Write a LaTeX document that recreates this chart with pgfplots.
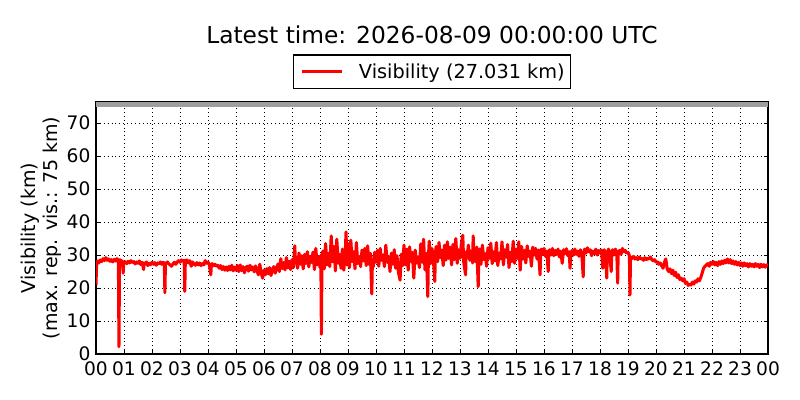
\documentclass[border=0pt]{standalone}
\usepackage{fontspec}
\setmainfont{DejaVu Sans}
\usepackage{pgfplots}
\pgfplotsset{compat=1.18}
\begin{document}
\begin{tikzpicture}[x=1pt,y=1pt]
\path[use as bounding box] (0,0) rectangle (576,288);
\begin{axis}[
 at={(69.12pt,33.12pt)}, anchor=south west, scale only axis,
 width=483.84pt, height=181.44pt,
 xmin=0, xmax=24, ymin=0, ymax=76.4,
 xtick={0,1,...,24},
 xticklabels={00,01,02,03,04,05,06,07,08,09,10,11,12,13,14,15,16,17,18,19,20,21,22,23,00},
 ytick={0,10,...,70},
 tick align=inside, tick pos=both, major tick length=3pt,
 tick style={black, line width=0.6pt},
 grid=major,
 major grid style={black, line width=0.5pt, dash pattern=on 0.6pt off 2.2pt},
 axis line style={line width=0.9pt},
 /pgf/number format/assume math mode=true,
 ticklabel style={font=\fontsize{13.4}{15}\selectfont},
 xticklabel style={yshift=-2pt},
 yticklabel style={xshift=-0.5pt},
 legend style={at={(0.5,1)}, anchor=south, yshift=9.36pt, draw=black, line width=0.8pt,
   font=\fontsize{13.9}{16}\selectfont, inner xsep=2pt, inner ysep=4pt},
 legend image code/.code={\draw[#1,line width=2.2pt] (4pt,0pt)--(33pt,0pt); \path[draw=none] (0pt,0pt)--(43pt,0pt);},
]
\addplot[fill=gray!75, draw=none, forget plot] coordinates {(0,75) (24,75) (24,76.4) (0,76.4)} -- cycle;
\addplot[red, line width=2.2pt, line join=round] table {
t v
0.00 21.0
0.02 27.0
0.05 28.2
0.10 27.6
0.15 28.5
0.20 28.0
0.25 28.9
0.30 28.3
0.35 29.2
0.40 28.4
0.45 28.8
0.50 28.1
0.55 28.6
0.60 27.9
0.65 28.7
0.70 28.2
0.75 28.9
0.80 28.4
0.82 2.2
0.84 28.6
0.90 28.3
0.95 28.0
0.97 24.5
0.99 27.8
1.05 28.0
1.10 27.4
1.15 28.1
1.20 27.6
1.25 28.3
1.30 27.7
1.35 28.0
1.40 27.3
1.45 27.9
1.50 27.5
1.55 28.2
1.60 27.1
1.65 27.8
1.70 25.6
1.72 27.6
1.75 27.2
1.80 27.9
1.85 26.8
1.90 27.5
1.95 27.1
2.00 27.8
2.05 27.2
2.10 27.7
2.15 26.9
2.20 27.6
2.25 27.3
2.30 27.9
2.35 27.2
2.40 27.8
2.44 27.5
2.46 18.6
2.48 27.4
2.55 27.9
2.60 27.3
2.65 27.0
2.70 26.6
2.75 27.3
2.80 27.8
2.85 27.2
2.90 27.9
2.95 28.3
3.00 27.8
3.05 28.5
3.10 28.1
3.15 28.4
3.17 19.0
3.19 28.2
3.25 28.5
3.30 27.6
3.35 28.3
3.40 26.6
3.45 27.9
3.50 27.3
3.55 26.9
3.60 27.7
3.65 27.0
3.70 27.6
3.75 26.8
3.80 27.4
3.85 27.0
3.90 28.3
3.95 27.5
4.00 27.9
4.05 27.1
4.10 24.0
4.12 27.0
4.15 27.4
4.20 26.8
4.25 27.2
4.30 26.6
4.35 26.9
4.40 26.0
4.45 26.8
4.50 25.6
4.55 26.5
4.60 25.4
4.65 26.4
4.70 25.3
4.75 26.6
4.80 25.5
4.85 26.9
4.90 25.2
4.95 26.3
5.00 25.4
5.05 26.8
5.10 25.0
5.15 27.0
5.20 25.3
5.25 26.5
5.30 24.6
5.35 26.2
5.40 26.6
5.45 25.1
5.50 26.9
5.55 25.5
5.60 26.4
5.65 24.9
5.70 26.7
5.75 25.2
5.80 24.0
5.85 27.2
5.90 24.5
5.95 23.0
6.00 25.4
6.05 24.0
6.10 25.9
6.15 24.3
6.20 26.2
6.25 23.8
6.30 25.6
6.35 26.5
6.40 24.5
6.45 26.0
6.50 27.3
6.55 25.0
6.60 28.9
6.65 25.9
6.70 27.7
6.75 25.5
6.80 29.2
6.85 26.1
6.90 28.1
6.95 25.6
7.00 28.6
7.05 26.2
7.10 32.8
7.12 27.6
7.15 29.4
7.20 26.0
7.25 30.6
7.30 27.2
7.35 29.8
7.40 25.8
7.45 30.2
7.50 27.4
7.55 31.0
7.60 26.4
7.65 29.6
7.70 27.8
7.75 30.9
7.80 25.6
7.85 32.0
7.90 27.0
7.95 29.5
8.00 26.2
8.03 30.0
8.05 6.0
8.07 28.5
8.10 31.2
8.15 25.8
8.20 33.5
8.25 27.0
8.30 30.5
8.35 26.5
8.40 35.8
8.45 28.0
8.50 32.6
8.55 25.2
8.60 34.8
8.65 27.5
8.70 30.2
8.75 26.0
8.80 31.8
8.85 25.4
8.90 30.0
8.93 37.0
8.96 27.0
9.00 33.5
9.05 26.2
9.10 34.5
9.15 28.0
9.20 31.0
9.25 25.8
9.30 33.8
9.35 27.4
9.40 29.6
9.45 26.5
9.50 31.5
9.55 28.2
9.60 32.0
9.65 26.8
9.70 32.8
9.75 27.2
9.80 30.5
9.85 18.2
9.87 28.0
9.90 26.4
9.95 30.8
10.00 27.8
10.05 31.4
10.10 26.6
10.15 32.0
10.20 28.4
10.25 30.0
10.30 26.5
10.35 33.0
10.40 27.8
10.45 29.5
10.50 25.0
10.55 30.6
10.60 27.2
10.65 31.6
10.70 26.0
10.75 29.8
10.80 24.8
10.86 22.4
10.90 30.2
10.95 26.8
11.00 33.0
11.05 27.0
11.10 31.8
11.15 25.4
11.20 32.5
11.25 28.0
11.30 30.8
11.35 23.0
11.40 31.5
11.45 27.6
11.50 29.4
11.55 26.2
11.60 33.4
11.65 27.8
11.70 34.8
11.75 25.5
11.80 30.5
11.85 17.4
11.87 29.0
11.90 34.2
11.95 27.4
12.00 32.0
12.05 28.5
12.10 22.0
12.12 30.6
12.15 32.6
12.20 28.0
12.25 33.8
12.30 29.2
12.35 31.5
12.40 26.8
12.45 33.0
12.50 28.5
12.55 34.0
12.60 29.0
12.65 32.4
12.70 27.0
12.75 33.2
12.80 28.6
12.85 35.0
12.90 27.5
12.95 31.6
13.00 29.0
13.05 33.5
13.10 36.0
13.13 28.0
13.20 24.0
13.22 31.0
13.25 29.2
13.30 33.0
13.35 28.4
13.40 31.2
13.45 27.6
13.47 35.8
13.50 30.0
13.55 28.0
13.60 32.4
13.65 20.4
13.67 29.0
13.70 31.8
13.75 27.2
13.80 33.0
13.85 28.6
13.90 30.4
13.95 26.6
14.00 32.2
14.05 29.0
14.10 33.6
14.15 27.4
14.20 31.0
14.25 28.2
14.30 33.8
14.35 26.8
14.40 30.6
14.45 28.8
14.50 34.0
14.55 27.0
14.60 31.6
14.65 29.4
14.70 33.2
14.75 26.2
14.80 30.8
14.85 28.0
14.90 34.2
14.95 27.5
15.00 31.8
15.05 29.0
15.10 34.0
15.15 25.4
15.20 32.6
15.25 28.8
15.30 31.4
15.35 27.6
15.40 32.8
15.45 29.6
15.50 31.2
15.55 26.6
15.60 32.4
15.65 30.0
15.70 32.0
15.75 28.8
15.80 31.5
15.86 24.0
15.88 30.6
15.90 31.8
15.95 30.2
16.00 32.0
16.05 29.6
16.10 31.2
16.15 25.0
16.17 30.4
16.20 31.6
16.25 30.0
16.30 32.0
16.35 29.8
16.40 31.4
16.45 30.2
16.50 31.8
16.55 29.4
16.60 31.2
16.65 27.5
16.70 31.6
16.75 30.4
16.80 31.9
16.85 29.8
16.90 31.0
16.93 26.0
16.96 30.6
17.00 31.4
17.05 30.0
17.10 31.8
17.15 30.2
17.20 31.2
17.25 29.6
17.30 31.6
17.35 30.4
17.40 23.4
17.42 30.0
17.45 31.8
17.50 30.6
17.55 32.2
17.60 31.0
17.65 31.6
17.70 29.8
17.75 31.2
17.80 30.4
17.85 31.8
17.90 30.0
17.95 31.4
18.00 30.6
18.05 31.5
18.10 26.0
18.12 30.8
18.15 31.6
18.20 30.2
18.24 23.0
18.26 30.4
18.30 31.8
18.35 30.2
18.40 25.0
18.42 31.0
18.45 31.6
18.50 30.0
18.55 31.8
18.60 30.6
18.63 21.5
18.65 30.8
18.70 31.4
18.75 30.2
18.80 32.0
18.85 31.0
18.90 31.4
18.95 30.6
19.00 30.8
19.05 29.8
19.07 17.9
19.09 29.4
19.15 29.0
19.20 29.6
19.25 28.8
19.30 29.2
19.35 28.6
19.40 29.4
19.45 28.8
19.50 29.0
19.55 28.4
19.60 29.2
19.65 28.6
19.70 29.0
19.75 28.8
19.80 29.4
19.85 28.6
19.90 28.2
19.95 28.6
20.00 27.8
20.05 28.0
20.10 27.2
20.15 27.6
20.20 26.8
20.25 26.0
20.30 27.8
20.35 28.8
20.40 25.8
20.45 25.0
20.50 25.8
20.55 24.4
20.60 25.4
20.65 23.8
20.70 24.8
20.75 23.2
20.80 24.0
20.85 22.6
20.90 23.0
20.95 22.2
21.00 22.8
21.05 21.4
21.10 21.8
21.15 20.8
21.20 21.2
21.25 20.9
21.30 21.8
21.35 21.2
21.40 22.2
21.45 21.8
21.50 22.8
21.55 22.2
21.60 23.2
21.65 24.6
21.70 26.0
21.75 26.6
21.80 27.0
21.85 27.4
21.90 26.6
21.95 27.8
22.00 27.2
22.05 28.0
22.10 27.0
22.15 27.8
22.20 26.8
22.25 28.0
22.30 27.2
22.35 28.2
22.40 27.4
22.45 28.4
22.50 27.6
22.55 28.8
22.60 27.6
22.65 28.6
22.70 27.4
22.75 28.2
22.80 27.2
22.85 28.0
22.90 27.0
22.95 27.8
23.00 26.8
23.05 27.6
23.10 26.6
23.15 27.6
23.20 26.8
23.25 27.4
23.30 26.4
23.35 27.4
23.40 26.6
23.45 27.2
23.50 26.4
23.55 27.4
23.60 26.6
23.65 27.2
23.70 26.2
23.75 27.2
23.80 26.4
23.85 27.1
23.90 26.3
23.95 27.0
24.00 27.0
};
\addlegendentry{Visibility (27.031 km)}
\end{axis}
\node[anchor=base, font=\fontsize{16.8}{20}\selectfont] at (311.04,257) {Latest time: 2026-08-09 00:00:00 UTC};
\node[anchor=base, rotate=90, font=\fontsize{13.7}{16}\selectfont] at (25.2,123.84) {Visibility (km)};
\node[anchor=base, rotate=90, font=\fontsize{13.7}{16}\selectfont] at (41.4,123.84) {(max. rep. vis.: 75 km)};
\end{tikzpicture}
\end{document}
